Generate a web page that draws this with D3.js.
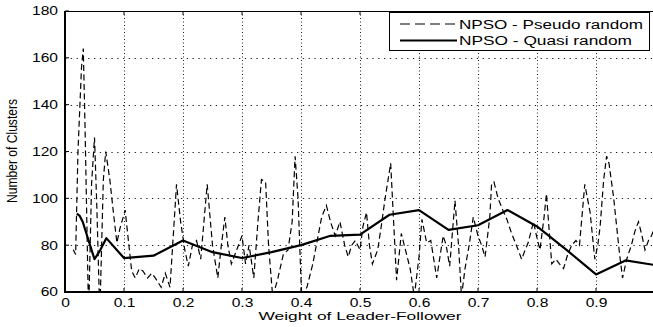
<!DOCTYPE html>
<html><head><meta charset="utf-8">
<script src="https://cdn.jsdelivr.net/npm/d3@7"></script>
<style>
body{margin:0;background:#fff}
svg{display:block}
text{font-family:"Liberation Sans",Arial,Helvetica,sans-serif;fill:#000}
</style>
</head><body>
<svg id="c" width="653" height="327"></svg>
<script>
// ---- data ----
const xTicks = [0, 0.1, 0.2, 0.3, 0.4, 0.5, 0.6, 0.7, 0.8, 0.9];
const xTickLabels = ["0", "0.1", "0.2", "0.3", "0.4", "0.5", "0.6", "0.7", "0.8", "0.9"];
const yTicks = [60, 80, 100, 120, 140, 160, 180];
const seriesNames = ["NPSO - Pseudo random", "NPSO - Quasi random"];
const xTitle = "Weight of Leader-Follower";
const yTitle = "Number of Clusters";

const quasiX = [0.02,0.025,0.03,0.04,0.05,0.06,0.07,0.1,0.15,0.2,0.25,0.3,0.35,0.4,0.45,0.5,0.55,0.6,0.65,0.7,0.75,0.8,0.85,0.9,0.95,1.0];
const quasiY = [93.5,92.5,90,82,74,78,83,74.5,75.5,82,77,74.5,77,80,84,84.5,93,95,86.5,88.5,95,88,78,67.5,73.5,71.5];

const pseudoX = [0.014,0.018,0.022,0.028,0.031,0.034,0.040,0.045,0.050,0.054,0.059,0.065,0.069,0.076,0.082,0.088,0.093,0.102,0.107,0.113,0.119,0.126,0.132,0.140,0.147,0.153,0.163,0.170,0.178,0.189,0.196,0.203,0.209,0.216,0.223,0.230,0.241,0.250,0.259,0.265,0.271,0.276,0.282,0.291,0.300,0.306,0.312,0.320,0.327,0.333,0.340,0.345,0.352,0.360,0.370,0.378,0.385,0.390,0.395,0.401,0.410,0.420,0.435,0.443,0.450,0.458,0.466,0.474,0.480,0.486,0.492,0.500,0.505,0.511,0.516,0.521,0.530,0.536,0.542,0.552,0.557,0.562,0.570,0.577,0.585,0.592,0.600,0.605,0.613,0.620,0.630,0.641,0.646,0.652,0.661,0.667,0.672,0.678,0.685,0.692,0.700,0.706,0.712,0.720,0.723,0.727,0.734,0.742,0.749,0.757,0.765,0.774,0.780,0.785,0.794,0.800,0.805,0.812,0.816,0.821,0.825,0.832,0.838,0.845,0.852,0.859,0.866,0.872,0.881,0.890,0.898,0.903,0.907,0.913,0.918,0.922,0.930,0.935,0.940,0.945,0.952,0.960,0.966,0.972,0.978,0.983,0.989,0.994,1.000];
const pseudoY = [78,76,120,156,164,130,50,106,126,96,50,108,120,108,94,81,87,95,83,69,66,70,69,66,68,66,62,68,62,106,90,78,71,80,82,74,106,80,66,80,92,80,72,78,84,72,80,66,90,108,107,80,58,65,76,78,90,118,100,58,62,72,92,97,90,84,90,80,75,80,82,78,88,94,80,72,78,88,99,115,90,65,85,78,70,58,75,91,81,82,66,84,80,71,99,80,58,70,80,92,84,80,75,92,106,107,100,95,91,85,80,74,78,81,90,83,78,92,102,85,72,74,72,70,76,80,82,80,106,94,74,80,88,108,118,115,100,88,76,66,74,80,86,90,84,78,82,84,88];

// ---- layout ----
const L = 65, R = 655, T = 11, B = 292;
const SX = 1.3; // horizontal stretch of the original figure's text

const svg = d3.select("#c");
const x = d3.scaleLinear().domain([0, 1]).range([L, R]);
const y = d3.scaleLinear().domain([60, 180]).range([B, T]);

function stretch(sel, k) {
  sel.each(function () {
    const w = this.getComputedTextLength();
    d3.select(this).attr("textLength", w * k).attr("lengthAdjust", "spacingAndGlyphs");
  });
}

// grid
const grid = svg.append("g");
grid.selectAll("line.vx").data(xTicks.filter(d => d > 0)).enter().append("line")
  .attr("x1", d => Math.round(x(d)) + 0.5).attr("x2", d => Math.round(x(d)) + 0.5)
  .attr("y1", T).attr("y2", B)
  .attr("stroke", "#222").attr("stroke-width", 1).attr("stroke-dasharray", "1,2.5");
grid.selectAll("line.hy").data(yTicks.filter(d => d > 60 && d < 180)).enter().append("line")
  .attr("x1", L).attr("x2", R)
  .attr("y1", d => Math.round(y(d)) + 0.5).attr("y2", d => Math.round(y(d)) + 0.5)
  .attr("stroke", "#222").attr("stroke-width", 1).attr("stroke-dasharray", "1.3,4.5");

// clip
svg.append("clipPath").attr("id", "clip").append("rect")
  .attr("x", L).attr("y", T).attr("width", R - L).attr("height", B - T);

const line = d3.line().x(d => x(d[0])).y(d => y(d[1]));
const pseudo = pseudoX.map((v, i) => [v, pseudoY[i]]);
const quasi = quasiX.map((v, i) => [v, quasiY[i]]);

const plot = svg.append("g").attr("clip-path", "url(#clip)");
plot.append("path").attr("d", line(pseudo)).attr("fill", "none")
  .attr("stroke", "#000").attr("stroke-width", 1.2).attr("stroke-dasharray", "6,3.5");
plot.append("path").attr("d", line(quasi)).attr("fill", "none")
  .attr("stroke", "#000").attr("stroke-width", 2.2).attr("stroke-linejoin", "round");

// axes frame
svg.append("line").attr("x1", L).attr("x2", R).attr("y1", T + 0.5).attr("y2", T + 0.5)
  .attr("stroke", "#000").attr("stroke-width", 1);
svg.append("line").attr("x1", L).attr("x2", R).attr("y1", B).attr("y2", B)
  .attr("stroke", "#000").attr("stroke-width", 2);
svg.append("line").attr("x1", L).attr("x2", L).attr("y1", T).attr("y2", B + 1)
  .attr("stroke", "#000").attr("stroke-width", 2);

// tick marks (inward)
svg.append("g").selectAll("line").data(xTicks.filter(d => d > 0)).enter().append("line")
  .attr("x1", d => x(d)).attr("x2", d => x(d)).attr("y1", T).attr("y2", T + 4)
  .attr("stroke", "#000");
svg.append("g").selectAll("line").data(xTicks.filter(d => d > 0)).enter().append("line")
  .attr("x1", d => x(d)).attr("x2", d => x(d)).attr("y1", B).attr("y2", B - 4)
  .attr("stroke", "#000");
svg.append("g").selectAll("line").data(yTicks).enter().append("line")
  .attr("x1", L).attr("x2", L + 4).attr("y1", d => y(d)).attr("y2", d => y(d))
  .attr("stroke", "#000");

// axis labels via d3 axes (ticks hidden, labels only)
const xa = svg.append("g").attr("transform", `translate(0,${B})`)
  .call(d3.axisBottom(x).tickValues(xTicks).tickFormat((d, i) => xTickLabels[i]).tickSize(0).tickPadding(6));
xa.select(".domain").remove();
xa.selectAll("text").attr("font-size", 12).attr("font-family", null).attr("fill", "#000").attr("dy", "0.71em");
stretch(xa.selectAll("text"), SX);

const ya = svg.append("g").attr("transform", `translate(${L},0)`)
  .call(d3.axisLeft(y).tickValues(yTicks).tickSize(0).tickPadding(7));
ya.select(".domain").remove();
ya.selectAll("text").attr("font-size", 12).attr("font-family", null).attr("fill", "#000");
stretch(ya.selectAll("text"), SX);

// titles
const xt = svg.append("text").attr("x", (L + R) / 2 - 0).attr("y", 320)
  .attr("text-anchor", "middle").attr("font-size", 11.5).text(xTitle);
xt.attr("textLength", 203).attr("lengthAdjust", "spacingAndGlyphs");

svg.append("g").attr("transform", "translate(16.5,151) scale(1.3,1) rotate(-90)")
  .append("text").attr("text-anchor", "middle").attr("font-size", 11)
  .attr("textLength", 104).attr("lengthAdjust", "spacingAndGlyphs").text(yTitle);

// legend
const lg = svg.append("g");
lg.append("rect").attr("x", 389.5).attr("y", 12.5).attr("width", 260).attr("height", 38)
  .attr("fill", "#fff").attr("stroke", "#000").attr("stroke-width", 1);
lg.append("line").attr("x1", 400).attr("x2", 457).attr("y1", 24).attr("y2", 24)
  .attr("stroke", "#000").attr("stroke-width", 1.2).attr("stroke-dasharray", "10,5");
lg.append("line").attr("x1", 400).attr("x2", 457).attr("y1", 40.5).attr("y2", 40.5)
  .attr("stroke", "#000").attr("stroke-width", 2);
lg.append("text").attr("x", 459).attr("y", 28.5).attr("font-size", 12)
  .attr("textLength", 184).attr("lengthAdjust", "spacingAndGlyphs").text(seriesNames[0]);
lg.append("text").attr("x", 459).attr("y", 45).attr("font-size", 12)
  .attr("textLength", 173).attr("lengthAdjust", "spacingAndGlyphs").text(seriesNames[1]);
</script>
</body></html>
